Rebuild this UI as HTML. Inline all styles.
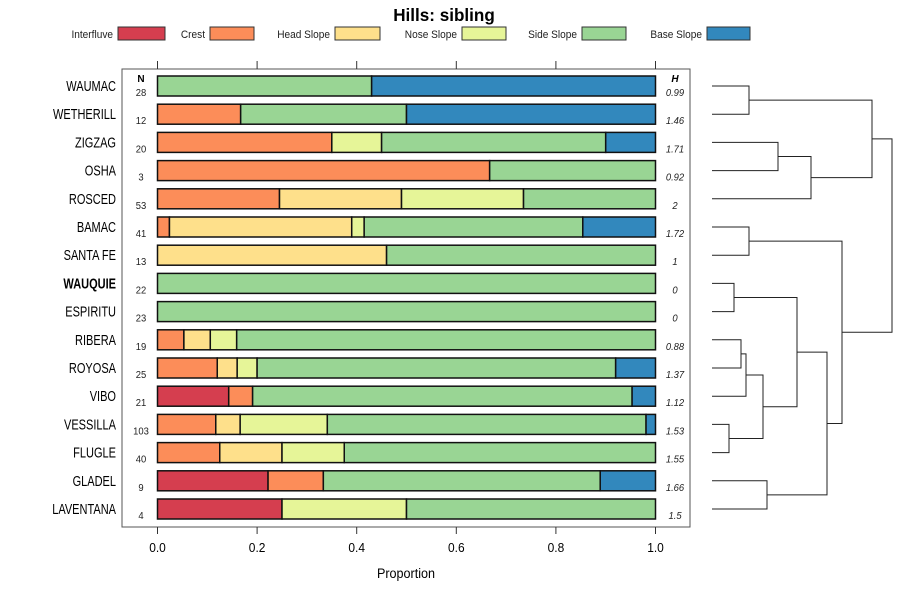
<!DOCTYPE html>
<html><head><meta charset="utf-8"><style>
body{margin:0;background:#fff}
svg{font-family:"Liberation Sans",sans-serif;display:block}
</style></head><body>
<svg id="chart" width="900" height="600">
<text x="0" y="21" font-size="18" font-weight="bold" text-anchor="middle" transform="translate(444,0) scale(0.95,1)">Hills: sibling</text>
<g id="legend"></g>
<rect x="122" y="69" width="568" height="458" fill="none" stroke="#555"/>
<g id="axes"></g><g id="bars"></g><g id="dendro"></g>
<text x="0" y="578" font-size="14" text-anchor="middle" transform="translate(406,0) scale(0.9,1)">Proportion</text>
</svg>
<script>
const categories=["Interfluve","Crest","Head Slope","Nose Slope","Side Slope","Base Slope"];
const colors=["#D53E4F","#FC8D59","#FEE08B","#E6F598","#99D594","#3288BD"];
const sites=["WAUMAC","WETHERILL","ZIGZAG","OSHA","ROSCED","BAMAC","SANTA FE","WAUQUIE","ESPIRITU","RIBERA","ROYOSA","VIBO","VESSILLA","FLUGLE","GLADEL","LAVENTANA"];
const nValues=[28,12,20,3,53,41,13,22,23,19,25,21,103,40,9,4];
const hValues=["0.99","1.46","1.71","0.92","2","1.72","1","0","0","0.88","1.37","1.12","1.53","1.55","1.66","1.5"];
const proportions=[
[0,0,0,0,0.43,0.57],
[0,0.167,0,0,0.333,0.5],
[0,0.35,0,0.10,0.45,0.10],
[0,0.667,0,0,0.333,0],
[0,0.245,0.245,0.245,0.265,0],
[0,0.024,0.366,0.025,0.439,0.146],
[0,0,0.46,0,0.54,0],
[0,0,0,0,1,0],
[0,0,0,0,1,0],
[0,0.053,0.053,0.053,0.841,0],
[0,0.12,0.04,0.04,0.72,0.08],
[0.143,0.048,0,0,0.762,0.047],
[0,0.117,0.049,0.175,0.64,0.019],
[0,0.125,0.125,0.125,0.625,0],
[0.222,0.111,0,0,0.556,0.111],
[0.25,0,0,0.25,0.5,0]];
const xTicks=[0,0.2,0.4,0.6,0.8,1.0];
const xTickLabels=["0.0","0.2","0.4","0.6","0.8","1.0"];
const merges=[[0,1,749],[2,3,778],["n1",4,811],["n0","n2",872],[5,6,749],[7,8,734],[9,10,741],["n6",11,746],[12,13,729],["n7","n8",763],["n5","n9",797],[14,15,767],["n10","n11",827],["n4","n12",842],["n3","n13",892]];
const NS="http://www.w3.org/2000/svg";
const svg=document.getElementById('chart');
function mk(tag,attrs,parent,text){const e=document.createElementNS(NS,tag);for(const k in attrs)e.setAttribute(k,attrs[k]);if(text!=null)e.textContent=text;parent.appendChild(e);return e;}
function nt(x,y,sx,attrs,parent,text){attrs.x=0;attrs.y=y;attrs.transform=`translate(${x},0) scale(${sx},1)`;return mk('text',attrs,parent,text);}
const xs=v=>157.5+v*498;
const ys=i=>86+i*28.2;
const lg=document.getElementById('legend');
const legX=[118,210,335,462,582,707],legW=[47,44,45,44,44,43];
categories.forEach((c,i)=>{
 const t=nt(legX[i]-5,38,0.92,{'font-size':11,'text-anchor':'end',fill:'#222'},lg,c);
 
 
 const r=mk('rect',{x:legX[i],y:27,width:legW[i],height:13,fill:colors[i],stroke:'#333','stroke-width':1},lg);
 
 
});
const ax=document.getElementById('axes');
xTicks.forEach((v,i)=>{
 const a=mk('line',{x1:xs(v),x2:xs(v),y1:61,y2:69,stroke:'#333'},ax);
 
 
 const b=mk('line',{x1:xs(v),x2:xs(v),y1:527,y2:534,stroke:'#333'},ax);
 
 
 const t=nt(xs(v),552,0.92,{'font-size':13,'text-anchor':'middle'},ax,xTickLabels[i]);
 
 
});
const nh=mk('text',{x:141,y:82,'font-size':10,'font-weight':'bold','text-anchor':'middle'},ax,'N');


const hh=mk('text',{x:675,y:82,'font-size':10,'font-weight':'bold','font-style':'italic','text-anchor':'middle'},ax,'H');


const bg=document.getElementById('bars');
sites.forEach((s,i)=>{
 const y=ys(i);
 const l=nt(116,y+5,0.76,{'font-size':14.5,'text-anchor':'end','font-weight':s==='WAUQUIE'?'bold':'normal'},bg,s);
 
 
 const n=nt(141,y+10,0.9,{'font-size':10.5,'text-anchor':'middle',fill:'#222'},bg,nValues[i]);
 
 
 const h=nt(675,y+10,0.9,{'font-size':10.5,'font-style':'italic','text-anchor':'middle',fill:'#222'},bg,hValues[i]);
 
 
 let acc=0;
 proportions[i].forEach((p,k)=>{
  if(p<=0)return;
  const r=mk('rect',{x:xs(acc),y:y-10,width:xs(acc+p)-xs(acc),height:20,fill:colors[k],stroke:'#111','stroke-width':1.5},bg);
  
  
  acc+=p;
 });
});
const dg=document.getElementById('dendro');
const nodes={};
function pos(c){return typeof c==='number'?{x:712,y:ys(c)}:nodes[c];}
merges.forEach((m,i)=>{
 const a=pos(m[0]),b=pos(m[1]),hx=m[2];
 const p=mk('path',{d:`M${a.x},${a.y}H${hx}V${b.y}H${b.x}`,fill:'none',stroke:'#222','stroke-width':1},dg);
 
 
 nodes['n'+i]={x:hx,y:(a.y+b.y)/2};
});
</script>
</body></html>
